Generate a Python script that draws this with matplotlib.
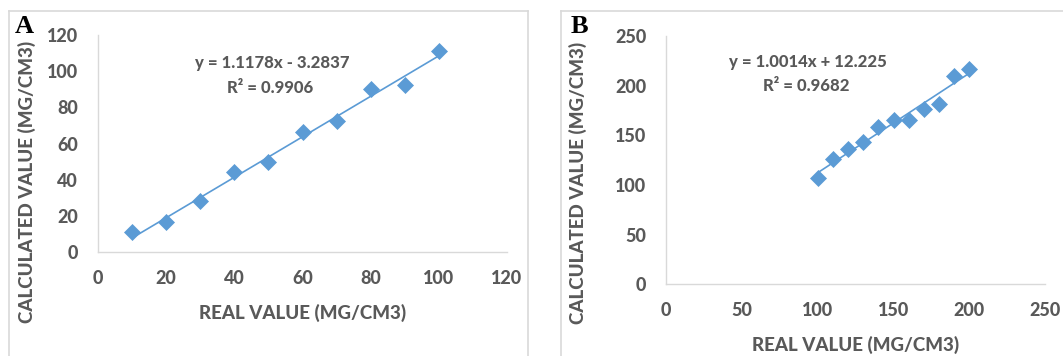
import matplotlib
matplotlib.use("Agg")
import matplotlib.pyplot as plt
import numpy as np
from matplotlib.lines import Line2D

# ---- data ----
real_a = [10, 20, 30, 40, 50, 60, 70, 80, 90, 100]
calc_a = [11.0, 16.5, 28.5, 44.3, 49.6, 66.5, 72.4, 90.0, 92.6, 111.2]
fit_a = [1.1178, -3.2837]
eq_a = ["y = 1.1178x - 3.2837", "R² = 0.9906"]
xticks_a = [0, 20, 40, 60, 80, 100, 120]
yticks_a = [0, 20, 40, 60, 80, 100, 120]

real_b = [100, 110, 120, 130, 140, 150, 160, 170, 180, 190, 200]
calc_b = [107.0, 126.5, 136.0, 143.5, 158.0, 165.5, 165.5, 176.5, 181.5, 210.0, 217.0]
fit_b = [1.0014, 12.225]
eq_b = ["y = 1.0014x + 12.225", "R² = 0.9682"]
xticks_b = [0, 50, 100, 150, 200, 250]
yticks_b = [0, 50, 100, 150, 200, 250]

xlabel = "REAL VALUE (MG/CM3)"
ylabel = "CALCULATED VALUE (MG/CM3)"

W, H = 1063, 356
BLUE = "#5B9BD5"
GRAY = "#595959"
LGRAY = "#D9D9D9"
FONT = "Lato"
WEIGHT = "black"

fig = plt.figure(figsize=(W / 100, H / 100), dpi=100)

def fx(px):
    return px / W

def fy(py):
    return 1 - py / H

def panel(rect, xs, ys, fit, eq, xt, yt, eq_xy, xl_xy, yl_xy, letter_xy, letter, box_x):
    l, r, t, b = rect
    ax = fig.add_axes([fx(l), fy(b), fx(r) - fx(l), fy(t) - fy(b)])
    ax.set_xlim(xt[0], xt[-1])
    ax.set_ylim(yt[0], yt[-1])
    ax.set_xticks(xt)
    ax.set_yticks(yt)
    for s in ["top", "right"]:
        ax.spines[s].set_visible(False)
    for s in ["left", "bottom"]:
        ax.spines[s].set_color(LGRAY)
        ax.spines[s].set_linewidth(1.0)
    ax.tick_params(length=0, labelcolor=GRAY, labelsize=13)
    ax.tick_params(axis="x", pad=12.5)
    ax.tick_params(axis="y", pad=14.5)
    for lab in ax.get_xticklabels() + ax.get_yticklabels():
        lab.set_fontfamily(FONT)
        lab.set_fontweight(WEIGHT)
    xf = np.array([min(xs), max(xs)])
    ax.plot(xf, fit[0] * xf + fit[1], color=BLUE, lw=1.2, zorder=2)
    ax.plot(xs, ys, linestyle="none", marker="D", ms=8.2, color=BLUE,
            markeredgecolor=BLUE, markeredgewidth=0.5, zorder=3, clip_on=False)
    # equation
    fig.text(fx(eq_xy[0]), fy(eq_xy[1]), eq[0], ha="center", va="center",
             color=GRAY, fontsize=12, fontfamily=FONT, fontweight=WEIGHT)
    fig.text(fx(eq_xy[2]), fy(eq_xy[3]), eq[1], ha="center", va="center",
             color=GRAY, fontsize=12, fontfamily=FONT, fontweight=WEIGHT)
    fig.text(fx(xl_xy[0]), fy(xl_xy[1]), xlabel, ha="center", va="center",
             color=GRAY, fontsize=13.5, fontfamily=FONT, fontweight=WEIGHT)
    fig.text(fx(yl_xy[0]), fy(yl_xy[1]), ylabel, ha="center", va="center",
             rotation=90, color=GRAY, fontsize=13.5, fontfamily=FONT, fontweight=WEIGHT)
    fig.text(fx(letter_xy[0]), fy(letter_xy[1]), letter, ha="left", va="baseline",
             color="black", fontsize=19, fontfamily="Liberation Serif", fontweight="bold")
    # chart area border
    x0, x1 = box_x
    fig.add_artist(Line2D([fx(x0), fx(x0)], [0, fy(11)], color=LGRAY, lw=1.2,
                          transform=fig.transFigure))
    fig.add_artist(Line2D([fx(x0), fx(x1)], [fy(11), fy(11)], color=LGRAY, lw=1.2,
                          transform=fig.transFigure))
    if x1 < W:
        fig.add_artist(Line2D([fx(x1), fx(x1)], [0, fy(11)], color=LGRAY, lw=1.2,
                              transform=fig.transFigure))
    return ax

panel((98, 507, 35, 252.3), real_a, calc_a, fit_a, eq_a, xticks_a, yticks_a,
      (272, 63.3, 270, 88.3), (302.5, 313.3), (27, 181.7), (15, 33), "A", (9, 528))
panel((666.3, 1045, 36, 284.3), real_b, calc_b, fit_b, eq_b, xticks_b, yticks_b,
      (807.5, 62.3, 806.7, 86), (855.8, 345), (578.3, 182.5), (571, 33), "B", (561, 1070))

fig.savefig("out.png", dpi=100)
